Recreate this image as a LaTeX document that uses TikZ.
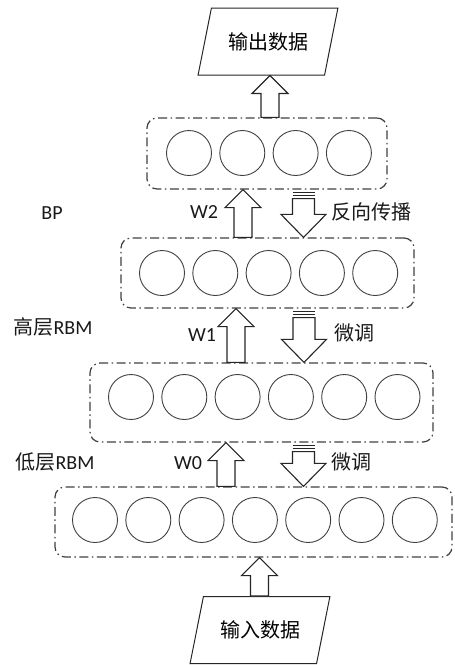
\documentclass[tikz,border=0pt]{standalone}
\usepackage{fontspec}
\setmainfont{Carlito}
\newfontfamily\cjk{Noto Sans CJK SC}
\usepackage{tikz}
\usetikzlibrary{calc,positioning,shapes.geometric}
\tikzset{
  layerbox/.style={draw=black!75,line width=1.2pt,rounded corners=10pt,inner sep=0pt,
                   dash pattern=on 9pt off 3.5pt on 1.5pt off 3.5pt},
  neuron/.style={circle,draw=black!75,line width=0.9pt,minimum size=45pt,inner sep=0pt},
  dataio/.style={trapezium,trapezium left angle=63,trapezium right angle=117,
                 trapezium stretches=true,draw=black!85,line width=1pt,inner sep=0pt,
                 minimum width=140pt,minimum height=67pt,font=\cjk\fontsize{20}{24}\selectfont},
  blk/.style={draw=black!85,line width=1.1pt,fill=white,line join=miter},
  lbl/.style={font=\fontsize{20}{24}\selectfont,inner sep=0pt,text=black!90},
}
% block arrow up: x, lower node, upper node
\newcommand{\blkup}[3]{%
  \draw[blk] let \p1=(#2.north), \p2=(#3.south) in
    ({#1pt-9pt},\y1) -- ({#1pt-9pt},{\y2-18pt}) -- ({#1pt-18pt},{\y2-18pt})
    -- (#1pt,\y2) -- ({#1pt+18pt},{\y2-18pt}) -- ({#1pt+9pt},{\y2-18pt})
    -- ({#1pt+9pt},\y1) -- cycle;}
% striped block arrow down: x, upper node, lower node
\newcommand{\blkdown}[3]{%
  \draw[blk] let \p1=(#2.south), \p2=(#3.north) in
    ({#1pt-11pt},{\y1-9pt}) -- ({#1pt-11pt},{\y2+23pt}) -- ({#1pt-22.5pt},{\y2+23pt})
    -- (#1pt,\y2) -- ({#1pt+22.5pt},{\y2+23pt}) -- ({#1pt+11pt},{\y2+23pt})
    -- ({#1pt+11pt},{\y1-9pt}) -- cycle;
  \draw[blk] let \p1=(#2.south) in
    ({#1pt-11pt},{\y1-2.5pt}) -- ({#1pt+11pt},{\y1-2.5pt})
    ({#1pt-11pt},{\y1-5.5pt}) -- ({#1pt+11pt},{\y1-5.5pt});}

\begin{document}
\begin{tikzpicture}[x=1pt,y=-1pt]
  \useasboundingbox (0,0) rectangle (455,665);
  % input / output
  \node[dataio] (out) at (268,41.5) {输出数据};
  \node[dataio] (in) at (260,630) {输入数据};
  % layers
  \node[layerbox,minimum width=240pt,minimum height=71pt] (L4) at (267,153.5) {};
  \node[layerbox,minimum width=293pt,minimum height=70pt] (L3) at (267.5,273) {};
  \node[layerbox,minimum width=343pt,minimum height=79pt] (L2) at (261.5,402.5) {};
  \node[layerbox,minimum width=397pt,minimum height=70pt] (L1) at (253.5,522) {};
  \foreach \i in {1,...,4} \node[neuron] (n4\i) at ({189+53.3*(\i-1)},153) {};
  \foreach \i in {1,...,5} \node[neuron] (n3\i) at ({162+53.3*(\i-1)},273) {};
  \foreach \i in {1,...,6} \node[neuron] (n2\i) at ({131+53.3*(\i-1)},397) {};
  \foreach \i in {1,...,7} \node[neuron] (n1\i) at ({95+53.3*(\i-1)},520) {};
  % arrows
  \blkup{259.5}{in}{L1}
  \blkup{226}{L1}{L2}
  \blkup{236}{L2}{L3}
  \blkup{243}{L3}{L4}
  \blkup{270}{L4}{out}
  \blkdown{303.5}{L4}{L3}
  \blkdown{304}{L3}{L2}
  \blkdown{303.5}{L2}{L1}
  % labels
  \node[lbl] (bp) at (52,213) {BP};
  \node[lbl] (w2) at (204,212) {W2};
  \node[lbl,anchor=west] (fx) at (331,212) {\cjk 反向传播};
  \node[lbl] (gc) at (53,327) {{\cjk 高层}RBM};
  \node[lbl] (w1) at (202,335) {W1};
  \node[lbl,anchor=west] (wt1) at (334,333) {\cjk 微调};
  \node[lbl] (dc) at (55,462) {{\cjk 低层}RBM};
  \node[lbl] (w0) at (188,463) {W0};
  \node[lbl,anchor=west] (wt0) at (331,462) {\cjk 微调};
\end{tikzpicture}
\end{document}
